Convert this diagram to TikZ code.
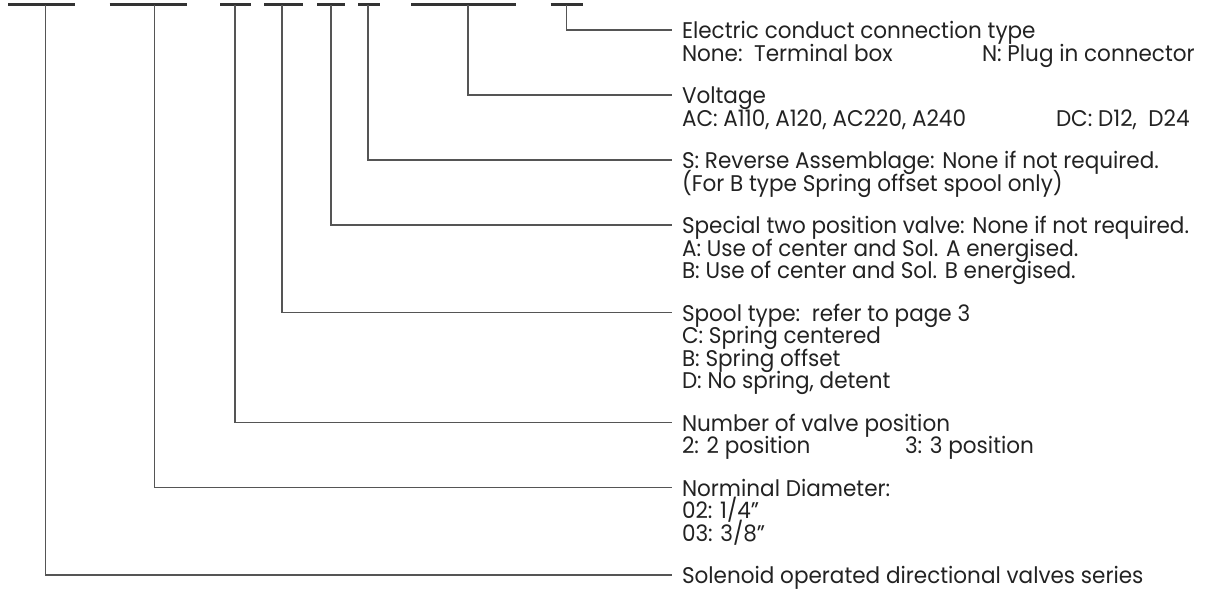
\documentclass[tikz,border=0pt]{standalone}
\usepackage{fontspec}
\setmainfont{Poppins}[FakeStretch=0.95]
\definecolor{ink}{HTML}{222222}
\definecolor{barc}{HTML}{333333}
\definecolor{leadc}{HTML}{555555}
\begin{document}
\begin{tikzpicture}[x=0.75pt,y=-0.75pt,
  txt/.style={anchor=base west, inner sep=0pt, outer sep=0pt, text=ink, font=\fontsize{17pt}{18pt}\selectfont},
  bar/.style={draw=barc, line width=1.9pt},
  leader/.style={draw=leadc, line width=0.9pt}]
\useasboundingbox (0,0) rectangle (1225,589);
% code bars
\foreach \n/\a/\b in {b1/8.3/75, b2/109.5/187, b3/220/251, b4/264/303, b5/317/345, b6/358/380, b7/411/516, b8/550.7/583.3}{
  \draw[bar] (\a,4.5) -- (\b,4.5);
}
\coordinate (v1) at (45.5,4.5);
\coordinate (v2) at (154.6,4.5);
\coordinate (v3) at (235,4.5);
\coordinate (v4) at (282,4.5);
\coordinate (v5) at (331,4.5);
\coordinate (v6) at (368,4.5);
\coordinate (v7) at (468,4.5);
\coordinate (v8) at (566.7,4.5);
% leader ends
\coordinate (e8) at (672,30);
\coordinate (e7) at (672,95);
\coordinate (e6) at (672,160);
\coordinate (e5) at (672,225);
\coordinate (e4) at (672,312.5);
\coordinate (e3) at (672,422.5);
\coordinate (e2) at (672,487.5);
\coordinate (e1) at (672,575);
\foreach \i in {1,...,8}{\draw[leader] (v\i) |- (e\i);}
% texts
\node[txt] (t8a) at (682,38.5) {Electric conduct connection type};
\node[txt] (t8b) at (682,61) {None:\ \ Terminal box};
\node[txt] (t8c) at (982,61) {N: Plug in connector};
\node[txt] (t7a) at (682,103.5) {Voltage};
\node[txt] (t7b) at (682,126) {AC: A110, A120, AC220, A240};
\node[txt] (t7c) at (1056,126) {DC: D12,\ \ D24};
\node[txt] (t6a) at (682,168.5) {S: Reverse Assemblage: None if not required.};
\node[txt] (t6b) at (682,191) {(For B type Spring offset spool only)};
\node[txt] (t5a) at (682,233.5) {Special two position valve: None if not required.};
\node[txt] (t5b) at (682,256) {A: Use of center and Sol. A energised.};
\node[txt] (t5c) at (682,278.5) {B: Use of center and Sol. B energised.};
\node[txt] (t4a) at (682,321) {Spool type:\ \ refer to page 3};
\node[txt] (t4b) at (682,343.5) {C: Spring centered};
\node[txt] (t4c) at (682,366) {B: Spring offset};
\node[txt] (t4d) at (682,388.5) {D: No spring, detent};
\node[txt] (t3a) at (682,431) {Number of valve position};
\node[txt] (t3b) at (682,453.5) {2: 2 position};
\node[txt] (t3c) at (905,453.5) {3: 3 position};
\node[txt] (t2a) at (682,496) {Norminal Diameter:};
\node[txt] (t2b) at (682,518.5) {02: 1/4"};
\node[txt] (t2c) at (682,541) {03: 3/8"};
\node[txt] (t1a) at (682,583.5) {Solenoid operated directional valves series};
\end{tikzpicture}
\end{document}
